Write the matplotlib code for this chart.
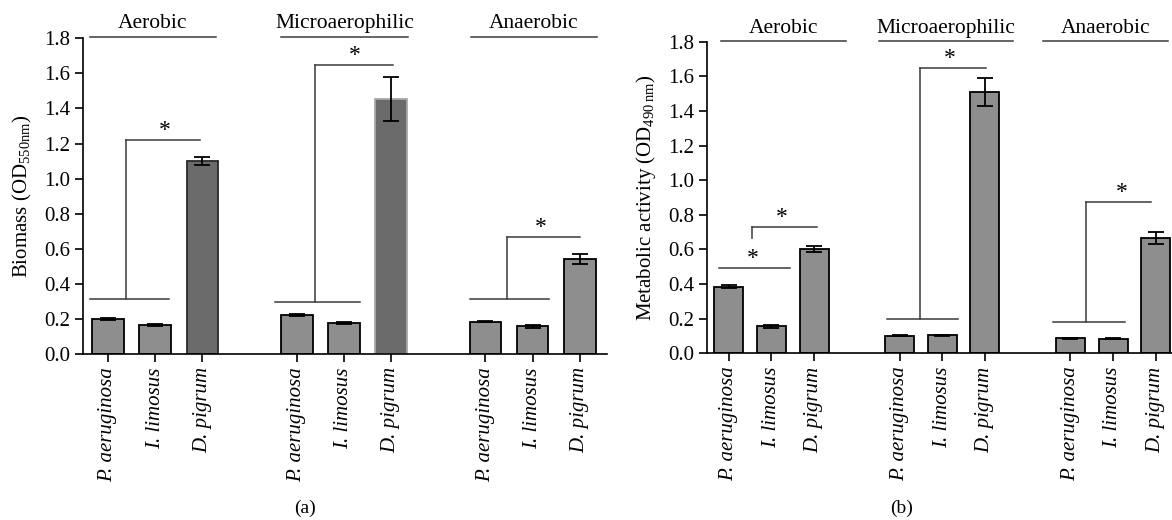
import numpy as np
import matplotlib
matplotlib.use('Agg')
import matplotlib.pyplot as plt

plt.rcParams['font.family'] = ['Liberation Serif', 'DejaVu Serif']
plt.rcParams['mathtext.fontset'] = 'custom'
plt.rcParams['mathtext.rm'] = 'Liberation Serif'
plt.rcParams['font.size'] = 15

groups = ['Aerobic', 'Microaerophilic', 'Anaerobic']
species = ['P. aeruginosa', 'I. limosus', 'D. pigrum']

# (a) biomass, OD550
biomass = [0.200, 0.165, 1.102, 0.223, 0.179, 1.455, 0.185, 0.158, 0.540]
biomass_err = [0.008, 0.006, 0.024, 0.004, 0.006, 0.125, 0.003, 0.007, 0.028]
# (b) metabolic activity, OD490
activity = [0.385, 0.157, 0.603, 0.102, 0.105, 1.510, 0.086, 0.084, 0.666]
activity_err = [0.010, 0.009, 0.015, 0.003, 0.003, 0.080, 0.002, 0.002, 0.035]

# significance levels (lower line, upper line)
sig_a = [(0.315, 1.222), (0.298, 1.648), (0.315, 0.669)]
sig_b = [(0.491, 0.731), (0.196, 1.650), (0.183, 0.876)]

LIGHT = '#8e8e8e'
DARK = '#6b6b6b'
LINE = '#3a3a3a'


def positions():
    return [g * 4 + i for g in range(3) for i in range(3)]


def draw_bars(ax, vals, errs, colors, edges, width):
    x = positions()
    for xi, v, e, c, ec in zip(x, vals, errs, colors, edges):
        ax.bar(xi, v, width=width, color=c, edgecolor=ec, linewidth=1.3, zorder=2)
        ax.errorbar(xi, v, yerr=e, fmt='none', ecolor='black', elinewidth=1.3,
                    capsize=5.5, capthick=1.3, zorder=3)
    ax.set_xticks(x)
    ax.set_xticklabels(species * 3, rotation=90, style='italic', va='top')


def style_axes(ax, xlim):
    ax.set_xlim(*xlim)
    ax.set_ylim(0, 1.8)
    ax.set_yticks(np.arange(0, 1.81, 0.2))
    ax.set_yticklabels(['%.1f' % t for t in np.arange(0, 1.81, 0.2)])
    for s in ['top', 'right']:
        ax.spines[s].set_visible(False)
    for s in ['left', 'bottom']:
        ax.spines[s].set_linewidth(1.2)
    ax.tick_params(direction='out', length=6, width=1.2, labelsize=15)


def hline(ax, x0, x1, y):
    ax.plot([x0, x1], [y, y], color=LINE, lw=1.1, clip_on=False, zorder=4)


def bracket(ax, base, lo, hi, l0, l1, vx, tx1, sx):
    # lower line joining the two controls, stem up, top line to D. pigrum
    hline(ax, base + l0, base + l1, lo)
    ax.plot([base + vx, base + vx], [lo, hi], color=LINE, lw=1.1, zorder=4)
    hline(ax, base + vx, base + tx1, hi)
    star(ax, base + sx, hi)


def star(ax, x, y):
    ax.text(x, y - 0.005, '*', ha='center', va='bottom', fontsize=17)


def group_headers(ax, spans, y):
    for g, (name, (a, b)) in enumerate(zip(groups, spans)):
        hline(ax, g * 4 + a, g * 4 + b, y)
        ax.text(g * 4 + (a + b) / 2, y + 0.047, name, ha='center',
                va='baseline', fontsize=15.5, clip_on=False)


fig = plt.figure(figsize=(11.72, 5.2), dpi=100)
ax1 = fig.add_axes([0.0712, 0.3192, 0.4465, 0.6071])
ax2 = fig.add_axes([0.6035, 0.3206, 0.3965, 0.5992])

# panel (a)
col_a = [LIGHT, LIGHT, DARK, LIGHT, LIGHT, DARK, LIGHT, LIGHT, LIGHT]
edge_a = ['black', 'black', '#2a2a2a', 'black', 'black', '#a8a8a8', 'black', 'black', 'black']
draw_bars(ax1, biomass, biomass_err, col_a, edge_a, 0.67)
style_axes(ax1, (-0.52, 10.57))
ax1.set_ylabel('Biomass (OD$_{550\\mathrm{nm}}$)', fontsize=15, labelpad=7)
group_headers(ax1, [(-0.376, 2.28), (-0.33, 2.35), (-0.31, 2.36)], 1.81)
bracket(ax1, 0, sig_a[0][0], sig_a[0][1], -0.38, 1.30, 0.38, 1.94, 1.20)
bracket(ax1, 4, sig_a[1][0], sig_a[1][1], -0.46, 1.35, 0.38, 2.04, 1.22)
bracket(ax1, 8, sig_a[2][0], sig_a[2][1], -0.32, 1.35, 0.45, 2.00, 1.17)

# panel (b)
draw_bars(ax2, activity, activity_err, [LIGHT] * 9, ['black'] * 9, 0.68)
style_axes(ax2, (-0.50, 10.38))
ax2.set_ylabel('Metabolic activity (OD$_{490\\,\\mathrm{nm}}$)', fontsize=15, labelpad=7)
group_headers(ax2, [(-0.18, 2.75), (-0.47, 2.66), (-0.64, 2.28)], 1.804)
hline(ax2, -0.22, 1.44, sig_b[0][0])
star(ax2, 0.56, sig_b[0][0])
ax2.plot([0.54, 0.54], [0.664, sig_b[0][1]], color=LINE, lw=1.1, zorder=4)
hline(ax2, 0.54, 2.08, sig_b[0][1])
star(ax2, 1.25, sig_b[0][1])
bracket(ax2, 4, sig_b[1][0], sig_b[1][1], -0.30, 1.38, 0.48, 2.02, 1.18)
bracket(ax2, 8, sig_b[2][0], sig_b[2][1], -0.41, 1.27, 0.36, 1.90, 1.20)

fig.text(0.26, 0.023, '(a)', ha='center', va='center', fontsize=14)
fig.text(0.769, 0.023, '(b)', ha='center', va='center', fontsize=14)

fig.savefig('out.png', dpi=100)
